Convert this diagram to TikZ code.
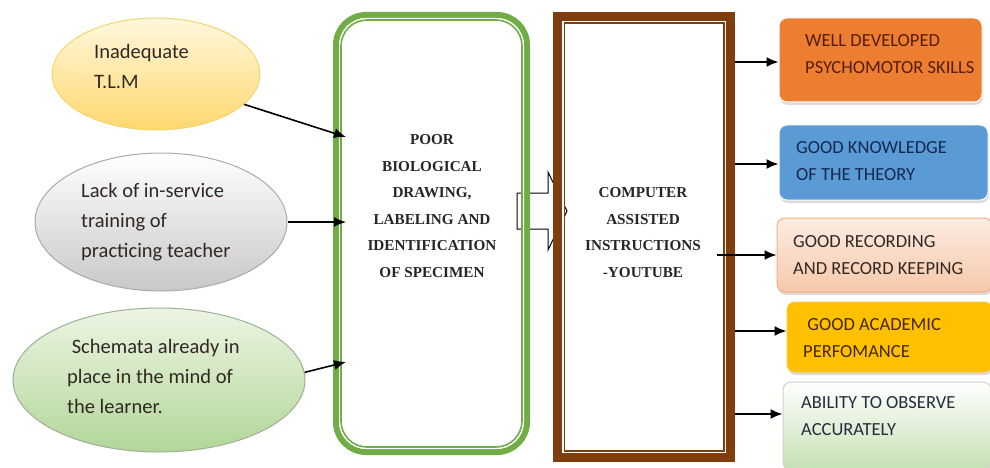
\documentclass[tikz,border=0pt]{standalone}
\usepackage{fontspec}
\setmainfont{Carlito}
\newfontfamily\timesf{Liberation Serif}
\usetikzlibrary{shapes.geometric,arrows.meta,shadows,calc}
\definecolor{boxgreen}{RGB}{112,173,71}
\definecolor{boxbrown}{RGB}{128,62,14}
\definecolor{orangebox}{RGB}{237,125,49}
\definecolor{bluebox}{RGB}{91,155,213}
\definecolor{peachtop}{RGB}{251,236,226}
\definecolor{peachbot}{RGB}{247,200,170}
\definecolor{peachline}{RGB}{244,177,131}
\definecolor{goldbox}{RGB}{255,192,0}
\definecolor{lgreenbot}{RGB}{197,224,180}
\definecolor{txtdark}{RGB}{50,40,35}
\tikzset{
  ell/.style={ellipse, inner sep=0pt, line width=1pt},
  ltext/.style={font=\fontsize{20.5}{30}\selectfont, text=txtdark, align=left, anchor=west, inner sep=0pt},
  rbox/.style={rectangle, rounded corners=8pt, inner sep=0pt, line width=1pt,
     drop shadow={shadow xshift=1pt, shadow yshift=-3pt, opacity=0.35, fill=black!40}},
  rtext/.style={font=\fontsize{18.5}{27}\selectfont, align=left, anchor=west, inner sep=0pt},
  ctext/.style={font=\timesf\bfseries\fontsize{15.2}{26.5}\selectfont, align=center, text=black!85},
  arr/.style={line width=1.6pt, -{Latex[length=12pt,width=10pt]}},
}
\begin{document}
\begin{tikzpicture}[x=1pt,y=-1pt]
\useasboundingbox (0,0) rectangle (990,468);
\fill[white] (0,0) rectangle (990,468);

% left ellipses
\node[ell, minimum width=208pt, minimum height=112pt, draw={rgb,255:red,240;green,215;blue,110},
  top color={rgb,255:red,255;green,248;blue,222}, bottom color={rgb,255:red,255;green,215;blue,110}] (e1) at (156,74) {};
\node[ltext] (te1) at (94,66) {Inadequate\\T.L.M};

\node[ell, minimum width=252pt, minimum height=138pt, draw={rgb,255:red,170;green,170;blue,170},
  top color=white, bottom color={rgb,255:red,200;green,200;blue,200}] (e2) at (161,222) {};
\node[ltext] (te2) at (81,222) {Lack of in-service\\training of\\practicing teacher};

\node[ell, minimum width=292pt, minimum height=144pt, draw={rgb,255:red,160;green,175;blue,150},
  top color={rgb,255:red,236;green,245;blue,228}, bottom color={rgb,255:red,178;green,214;blue,152}] (e3) at (159,380) {};
\node[ltext] (te3) at (67,376) {\ Schemata already in\\place in the mind of\\the learner.};

% block arrow between the two central boxes
\draw[fill=white, line width=1pt] (517,193) -- (548,193) -- (548,172) -- (567,211) -- (548,250) -- (548,229) -- (517,229) -- cycle;

% central green box
\node[rectangle, draw=boxgreen, line width=6pt, outer sep=0pt, rounded corners=30pt, minimum width=191pt, minimum height=437pt, inner sep=0pt] (poor) at (431.5,233.5) {};
\draw[white, line width=1.2pt, rounded corners=27pt] ([shift={(3.6pt,-3.6pt)}]poor.north west) rectangle ([shift={(-3.6pt,3.6pt)}]poor.south east);
\draw[boxgreen, line width=1.6pt, rounded corners=26pt] ([shift={(5pt,-5pt)}]poor.north west) rectangle ([shift={(-5pt,5pt)}]poor.south east);
\node[ctext] (tpoor) at (432,206) {POOR\\BIOLOGICAL\\DRAWING,\\LABELING AND\\IDENTIFICATION\\OF SPECIMEN};

% central brown box
\node[rectangle, draw=boxbrown, line width=9pt, outer sep=0pt, minimum width=173pt, minimum height=441pt, inner sep=0pt] (cai) at (644,237) {};
\draw[white, line width=1.5pt] ([shift={(5.25pt,-5.25pt)}]cai.north west) rectangle ([shift={(-5.25pt,5.25pt)}]cai.south east);
\draw[boxbrown, line width=1.5pt] ([shift={(6.75pt,-6.75pt)}]cai.north west) rectangle ([shift={(-6.75pt,6.75pt)}]cai.south east);
\node[ctext] (tcai) at (643,232.5) {COMPUTER\\ASSISTED\\INSTRUCTIONS\\-YOUTUBE};

% arrows from ellipses
\coordinate (p1) at (346,137);
\coordinate (p2) at (346,222);
\coordinate (p3) at (346,362);
\draw[arr] (e1.-19) -- (p1);
\draw[arr] (e2.east) -- (p2);
\draw[arr] (e3.3) -- (p3);

% right boxes
\node[rbox, draw=white, fill=orangebox, minimum width=203pt, minimum height=84pt] (b1) at (880.5,60) {};
\node[rtext, text={rgb,255:red,85;green,30;blue,10}] (tb1) at (805,54.5) {WELL DEVELOPED\\PSYCHOMOTOR SKILLS};

\node[rbox, draw=white, fill=bluebox, minimum width=209pt, minimum height=75pt] (b2) at (883.5,162.5) {};
\node[rtext, text={rgb,255:red,20;green,40;blue,80}] (tb2) at (796,161) {GOOD KNOWLEDGE\\OF THE THEORY};

\node[rbox, draw=peachline, top color=peachtop, bottom color=peachbot, minimum width=215pt, minimum height=74pt] (b3) at (884.5,255) {};
\node[rtext, text=txtdark] (tb3) at (793,255.5) {GOOD RECORDING\\AND RECORD KEEPING};

\node[rbox, draw={rgb,255:red,250;green,200;blue,60}, fill=goldbox, minimum width=205pt, minimum height=70pt] (b4) at (889.5,337) {};
\node[rtext, text={rgb,255:red,70;green,40;blue,10}] (tb4) at (803,338.5) {\ GOOD ACADEMIC\\PERFOMANCE};

\node[rbox, draw={rgb,255:red,200;green,215;blue,190}, top color=white, bottom color=lgreenbot, minimum width=208pt, minimum height=88pt] (b5) at (887,426) {};
\node[rtext, text={rgb,255:red,35;green,45;blue,60}] (tb5) at (801,416.5) {ABILITY TO OBSERVE\\ACCURATELY};

% arrows to right boxes
\coordinate (s1) at (735,62);
\coordinate (s2) at (735,164);
\coordinate (s3) at (717,255);
\coordinate (s4) at (735,331);
\coordinate (s5) at (735,414);
\draw[arr] (s1) -- (s1 -| b1.west);
\draw[arr] (s2) -- (s2 -| b2.west);
\draw[arr] (s3) -- (s3 -| b3.west);
\draw[arr] (s4) -- (s4 -| b4.west);
\draw[arr] (s5) -- (s5 -| b5.west);
\end{tikzpicture}
\end{document}
